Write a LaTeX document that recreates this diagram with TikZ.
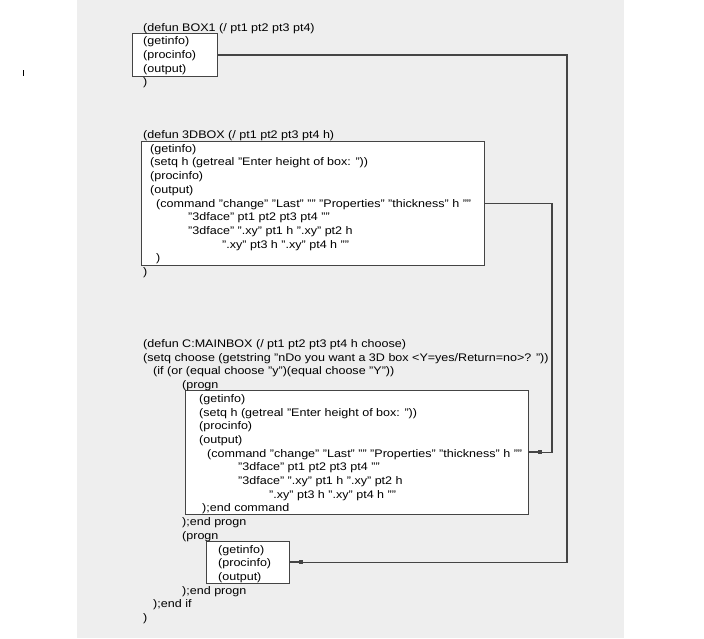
\documentclass[tikz,border=0pt]{standalone}
\usepackage{fontspec}
\setmainfont{Liberation Sans}[FakeStretch=1.14]
\usetikzlibrary{arrows.meta}
\definecolor{panel}{HTML}{EEEEEE}
\definecolor{wire}{HTML}{444444}
\tikzset{
  codebox/.style={draw=wire,line width=0.9pt,fill=white,anchor=north west,inner sep=0pt},
  listing/.style={anchor=base west,align=left,inner sep=0pt,font=\fontsize{11pt}{13.7pt}\selectfont},
  link/.style={draw=wire,line width=1.7pt,-{Rectangle[length=4pt,width=4pt] Rectangle[length=9pt,width=1.4pt]}}
}
\begin{document}
\begin{tikzpicture}[x=1pt,y=-1pt]
  \def\railone{567}
  \def\railtwo{552}

  \fill[white] (0,0) rectangle (704,638);
  \useasboundingbox (0,0) rectangle (704,638);
  \fill[panel] (77,0) rectangle (624,638);
  \draw[line width=0.8pt] (23,70) -- (23,76);

  % boxes
  \node[codebox,minimum width=85pt,minimum height=43pt] (box1) at (132,33) {};
  \node[codebox,minimum width=343pt,minimum height=124pt] (box3d) at (141,141) {};
  \node[codebox,minimum width=343pt,minimum height=124pt] (boxmain) at (185,390) {};
  \node[codebox,minimum width=83pt,minimum height=42pt] (boxflat) at (206,541) {};

  \coordinate (rail1) at (\railone,0);
  \coordinate (rail2) at (\railtwo,0);
  \draw[link] (box1.east) -- (box1.east -| rail1) |- (boxflat.east);
  \draw[link] (box3d.east) -- (box3d.east -| rail2) |- (boxmain.east);

  % code (base = last line)
  \node[listing] (src1) at (143,85.8) {(defun BOX1 (/ pt1 pt2 pt3 pt4)\\(getinfo)\\(procinfo)\\(output)\\)};
  \node[listing] (src3d) at (143,275.5) {(defun 3DBOX (/ pt1 pt2 pt3 pt4 h)\\
    \hspace*{7pt}(getinfo)\\
    \hspace*{7pt}(setq h (getreal "Enter height of box: "))\\
    \hspace*{7pt}(procinfo)\\
    \hspace*{7pt}(output)\\
    \hspace*{13pt}(command "change" "Last" "" "Properties" "thickness" h ""\\
    \hspace*{45pt}"3dface" pt1 pt2 pt3 pt4 ""\\
    \hspace*{45pt}"3dface" ".xy" pt1 h ".xy" pt2 h\\
    \hspace*{79pt}".xy" pt3 h ".xy" pt4 h ""\\
    \hspace*{13pt})\\
    )};
  \node[listing] (srcmain) at (143,621.5) {(defun C:MAINBOX (/ pt1 pt2 pt3 pt4 h choose)\\
    (setq choose (getstring "nDo you want a 3D box <Y=yes/Return=no>? "))\\
    \hspace*{10pt}(if (or (equal choose "y")(equal choose "Y"))\\
    \hspace*{39pt}(progn\\
    \hspace*{56pt}(getinfo)\\
    \hspace*{56pt}(setq h (getreal "Enter height of box: "))\\
    \hspace*{56pt}(procinfo)\\
    \hspace*{56pt}(output)\\
    \hspace*{64pt}(command "change" "Last" "" "Properties" "thickness" h ""\\
    \hspace*{95pt}"3dface" pt1 pt2 pt3 pt4 ""\\
    \hspace*{95pt}"3dface" ".xy" pt1 h ".xy" pt2 h\\
    \hspace*{126pt}".xy" pt3 h ".xy" pt4 h ""\\
    \hspace*{59pt});end command\\
    \hspace*{39pt});end progn\\
    \hspace*{39pt}(progn\\
    \hspace*{75pt}(getinfo)\\
    \hspace*{75pt}(procinfo)\\
    \hspace*{75pt}(output)\\
    \hspace*{39pt});end progn\\
    \hspace*{10pt});end if\\
    )};
\end{tikzpicture}
\end{document}
